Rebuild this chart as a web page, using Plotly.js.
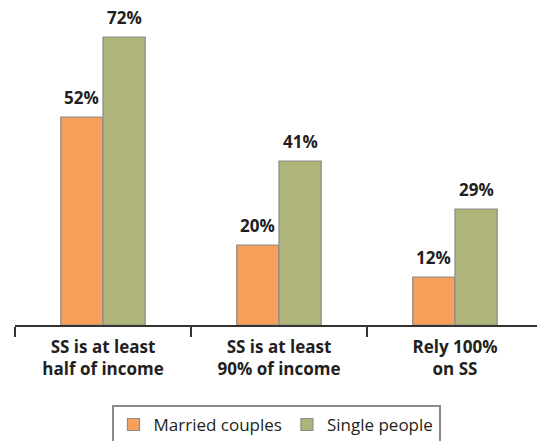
<!DOCTYPE html>
<html>
<head>
<meta charset="utf-8">
<script src="https://cdn.plot.ly/plotly-3.0.1.min.js"></script>
<style>
  html, body { margin: 0; padding: 0; background: #fff; overflow: hidden; }
  #chart { width: 537px; height: 446px; }
</style>
</head>
<body>
<div id="chart"></div>
<script>
const categories = ['SS is at least<br>half of income', 'SS is at least<br>90% of income', 'Rely 100%<br>on SS'];
const married = [52, 20, 12];
const single = [72, 41, 29];
const seriesNames = ['Married couples', 'Single people'];

const fontFamily = '"Open Sans", "DejaVu Sans", sans-serif';
const labelFont = { family: fontFamily, size: 17, color: '#231f20', weight: 'bold' };

function barTrace(name, values, fill) {
    return {
        type: 'bar',
        name: name,
        x: categories,
        y: values,
        marker: { color: fill, line: { color: '#8c8c8c', width: 1.2 } },
        hoverinfo: 'skip'
    };
}

const data = [
    barTrace(seriesNames[0], married, '#f7a05c'),
    barTrace(seriesNames[1], single, '#afb57a')
];

// value labels sit a bit higher above the bars than plotly's own outside text
const barGap = 0.52;
const half = (1 - barGap) / 4;
const annotations = [];
[married, single].forEach((vals, s) => {
    vals.forEach((v, i) => {
        annotations.push({
            x: i + (s === 0 ? -half : half),
            y: v,
            xref: 'x',
            yref: 'y',
            text: v + '%',
            showarrow: false,
            yanchor: 'bottom',
            yshift: 6,
            font: labelFont
        });
    });
});

// the reference legend box runs off the bottom edge, so the figure is a bit taller than the window
const layout = {
    width: 537,
    height: 446,
    margin: { t: 0, b: 121, l: 15, r: 0 },
    paper_bgcolor: '#fff',
    plot_bgcolor: '#fff',
    barmode: 'group',
    bargap: barGap,
    bargroupgap: 0,
    showlegend: true,
    annotations: annotations,
    xaxis: {
        type: 'category',
        range: [-0.5, 2.466],
        tickson: 'boundaries',
        ticks: 'outside',
        ticklen: 10,
        tickwidth: 1.5,
        tickcolor: '#333',
        ticklabelstandoff: 6,
        showline: true,
        linecolor: '#333',
        linewidth: 1.5,
        showgrid: false,
        zeroline: false,
        tickfont: labelFont,
        fixedrange: true
    },
    yaxis: {
        range: [0, 81.25],
        visible: false,
        showgrid: false,
        zeroline: false,
        fixedrange: true
    },
    legend: {
        orientation: 'h',
        x: 0.5,
        xanchor: 'center',
        y: -0.246,
        yanchor: 'top',
        bgcolor: '#fff',
        bordercolor: '#8a8a8a',
        borderwidth: 2,
        font: { family: fontFamily, size: 17, color: '#231f20' },
        itemclick: false,
        itemdoubleclick: false
    }
};

Plotly.newPlot('chart', data, layout, { displayModeBar: false, staticPlot: true });
</script>
</body>
</html>
